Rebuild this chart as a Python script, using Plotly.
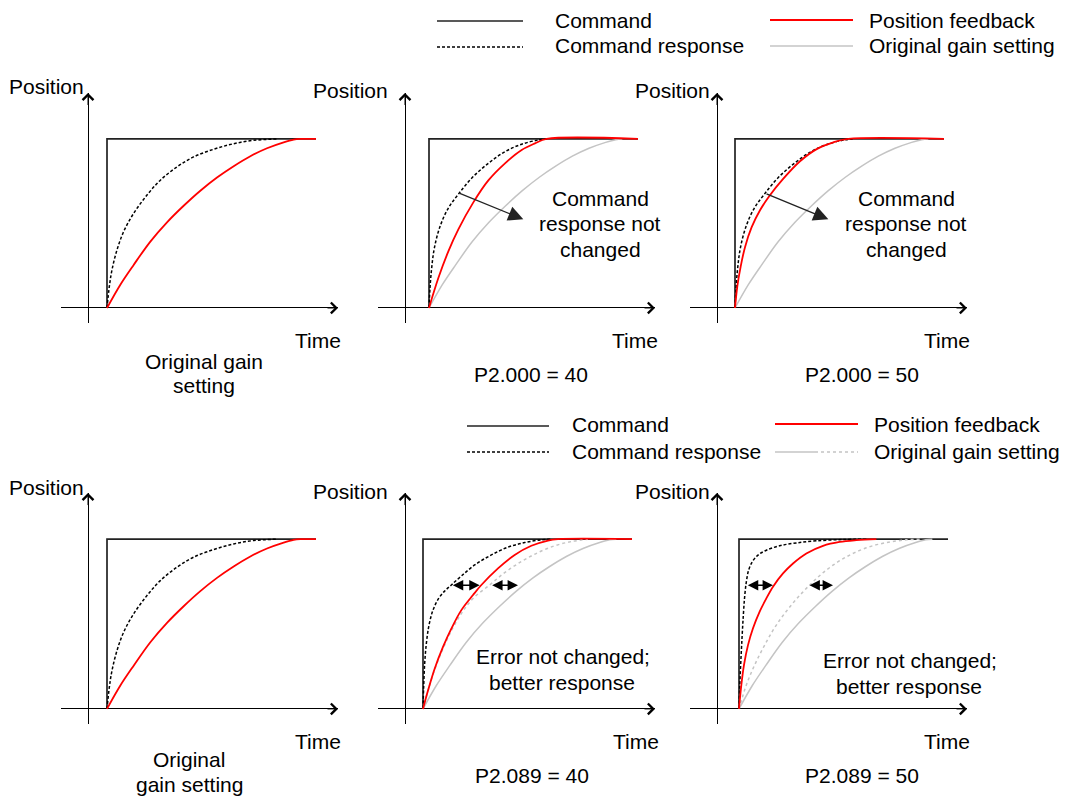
import plotly.graph_objects as go

# the page body adds an 8px margin, so the figure is drawn 8px smaller
OFF = 8
W, H = 1068 - OFF, 796 - OFF
FONT = "Liberation Sans, Arial, sans-serif"

# time counted from the command step (1 unit = one time division),
# position normalised so that the command level is 1
cmd_len = 10.45
step_t = [0.95, 1.2, 0.9, 0.95, 0.9, 1.1]   # command step time in each panel

# original gain setting: command response (dotted) and position feedback
orig_resp_t = [0, 0.117, 0.25, 0.5, 0.833, 1.333, 2.0, 2.667, 3.5, 4.333, 5.333, 6.333, 7.333, 8.5]
orig_resp_p = [0, 0.128, 0.226, 0.344, 0.452, 0.56, 0.668, 0.756, 0.835, 0.894, 0.939, 0.972, 0.992, 1.0]
orig_fb_t = [0, 0.667, 1.333, 2.167, 3.0, 3.833, 4.667, 5.5, 6.333, 7.167, 8.0, 8.833, 9.333, 9.667]
orig_fb_p = [0, 0.138, 0.255, 0.393, 0.507, 0.605, 0.694, 0.772, 0.839, 0.898, 0.945, 0.98, 0.996, 1.0]

# P2.000 = 40 / 50 : command response not changed
p2000_resp_t = [0, 0.05, 0.133, 0.267, 0.55, 0.967, 1.467, 2.133, 2.967, 3.8, 4.633, 5.467, 5.883]
p2000_resp_p = [0, 0.118, 0.236, 0.354, 0.482, 0.591, 0.673, 0.768, 0.856, 0.925, 0.969, 0.994, 1.0]
p2000_40_fb_t = [0, 0.467, 0.967, 1.467, 2.217, 2.967, 3.8, 4.633, 5.3, 5.883]
p2000_40_fb_p = [0, 0.177, 0.335, 0.465, 0.625, 0.755, 0.856, 0.935, 0.974, 1.0]
p2000_50_fb_t = [0, 0.117, 0.283, 0.5, 0.833, 1.25, 1.7, 2.417, 3.25, 4.083, 4.917, 5.667]
p2000_50_fb_p = [0, 0.13, 0.245, 0.36, 0.478, 0.578, 0.66, 0.765, 0.868, 0.94, 0.98, 1.0]

# P2.089 = 40
p2089_40_resp_t = [0, 0.033, 0.083, 0.167, 0.3, 0.5, 0.783, 1.083, 1.417, 1.917, 2.583, 3.417, 4.25, 5.083, 5.917, 6.417]
p2089_40_resp_p = [0, 0.128, 0.266, 0.385, 0.493, 0.582, 0.651, 0.694, 0.73, 0.783, 0.848, 0.907, 0.953, 0.98, 0.996, 1.0]
p2089_40_fb_t = [0, 0.25, 0.583, 1.0, 1.417, 1.917, 2.5, 2.917, 3.75, 4.583, 5.417, 6.25, 6.75]
p2089_40_fb_p = [0, 0.108, 0.237, 0.365, 0.473, 0.582, 0.671, 0.73, 0.828, 0.907, 0.961, 0.992, 1.0]
p2089_40_ref_t = [0, 0.25, 0.583, 1.0, 1.417, 1.917, 2.5, 3.333, 4.083, 4.917, 5.75, 6.583, 7.417, 8.25]
p2089_40_ref_p = [0, 0.108, 0.231, 0.355, 0.46, 0.562, 0.651, 0.73, 0.803, 0.868, 0.921, 0.961, 0.986, 1.0]

# P2.089 = 50
p2089_50_resp_t = [0, 0.033, 0.083, 0.15, 0.217, 0.283, 0.367, 0.483, 0.667, 0.95, 1.367, 2.033, 2.867, 3.867, 5.2, 6.367]
p2089_50_resp_p = [0, 0.122, 0.259, 0.416, 0.553, 0.661, 0.749, 0.818, 0.867, 0.906, 0.935, 0.961, 0.978, 0.99, 0.998, 1.0]
p2089_50_fb_t = [0, 0.117, 0.25, 0.45, 0.7, 1.033, 1.367, 1.7, 2.2, 2.7, 3.367, 4.2, 5.033, 5.867, 6.867]
p2089_50_fb_p = [0, 0.141, 0.259, 0.376, 0.475, 0.573, 0.651, 0.72, 0.798, 0.857, 0.916, 0.961, 0.984, 0.994, 1.0]
p2089_50_ref_t = [0, 0.367, 0.783, 1.283, 1.867, 2.617, 3.45, 4.367, 5.367, 6.367, 7.367, 8.367, 9.033]
p2089_50_ref_p = [0, 0.141, 0.259, 0.376, 0.494, 0.612, 0.72, 0.818, 0.896, 0.949, 0.98, 0.996, 1.0]

# "command response not changed" arrows (panel 2, 3): tail, head
note_arrow_tail = [(2.665, 0.682), (2.4, 0.679)]
note_arrow_head = [(5.915, 0.525), (5.567, 0.525)]
# error arrows (panel 5, 6): (x0, x1, y)
err_arrows = [[(2.317, 3.733, 0.729), (4.283, 5.65, 0.729)],
              [(1.467, 2.8, 0.729), (4.55, 5.8, 0.729)]]

CMD = dict(color="#222222", width=1.7)
RED = dict(color="#ff0000", width=1.8)
DOT = dict(color="#000000", width=1.5, dash="3px,2px")
GRAY = dict(color="#c4c4c4", width=1.5)
GRAY_DOT = dict(color="#c4c4c4", width=1.5, dash="3px,3px")

# (t, p, style, hold at command level until end)
panels = [
    [(orig_resp_t, orig_resp_p, DOT, False), (orig_fb_t, orig_fb_p, RED, True)],
    [(orig_fb_t, orig_fb_p, GRAY, False), (p2000_resp_t, p2000_resp_p, DOT, False),
     (p2000_40_fb_t, p2000_40_fb_p, RED, True)],
    [(orig_fb_t, orig_fb_p, GRAY, False), (p2000_resp_t, p2000_resp_p, DOT, False),
     (p2000_50_fb_t, p2000_50_fb_p, RED, True)],
    [(orig_resp_t, orig_resp_p, DOT, False), (orig_fb_t, orig_fb_p, RED, True)],
    [(orig_fb_t, orig_fb_p, GRAY, False), (p2089_40_ref_t, p2089_40_ref_p, GRAY_DOT, False),
     (p2089_40_resp_t, p2089_40_resp_p, DOT, False), (p2089_40_fb_t, p2089_40_fb_p, RED, True)],
    [(orig_fb_t, orig_fb_p, GRAY, False), (p2089_50_ref_t, p2089_50_ref_p, GRAY_DOT, False),
     (p2089_50_resp_t, p2089_50_resp_p, DOT, False), (p2089_50_fb_t, p2089_50_fb_p, RED, False)],
]

col_px = [88, 405, 717]              # y axis position of each column
row_px = [(93, 323), (493, 724)]     # top / bottom of y axis in each row
x_rng = [-1.35, 12.5]
y_rng = [-0.0888, 1.272]


def px(x):
    return (x - OFF) / W


def py(y):
    return 1 - (y - OFF) / H


fig = go.Figure()
layout = {}

for i, curves in enumerate(panels):
    n = "" if i == 0 else str(i + 1)
    xa, ya = "x" + n, "y" + n
    cx = col_px[i % 3]
    top, bot = row_px[i // 3]
    layout["xaxis" + n] = dict(
        domain=[px(cx - 27), px(cx + 250)], range=x_rng, anchor=ya,
        showgrid=False, showticklabels=False, ticks="", zeroline=True,
        zerolinecolor="black", zerolinewidth=1, fixedrange=True)
    layout["yaxis" + n] = dict(
        domain=[py(bot), py(top)], range=y_rng, anchor=xa,
        showgrid=False, showticklabels=False, ticks="", zeroline=True,
        zerolinecolor="black", zerolinewidth=1, fixedrange=True)

    s = step_t[i]
    fig.add_trace(go.Scatter(x=[s, s, s + cmd_len], y=[0, 1, 1], mode="lines",
                             line=CMD, xaxis=xa, yaxis=ya, hoverinfo="skip"))
    for t, p, style, hold in curves:
        xs = [s + v for v in t]
        ys = list(p)
        if hold:
            xs.append(s + cmd_len)
            ys.append(1.0)
        fig.add_trace(go.Scatter(x=xs, y=ys, mode="lines", line=dict(shape="spline", smoothing=1.0, **style),
                                 xaxis=xa, yaxis=ya, hoverinfo="skip"))

    # axis arrow heads
    fig.add_annotation(x=x_rng[1], y=0, ax=x_rng[1] - 0.6, ay=0, xref=xa, yref=ya, axref=xa, ayref=ya,
                       text="", showarrow=True, arrowhead=4, arrowsize=2.1, arrowwidth=1, arrowcolor="black")
    fig.add_annotation(x=0, y=y_rng[1], ax=0, ay=y_rng[1] - 0.08, xref=xa, yref=ya, axref=xa, ayref=ya,
                       text="", showarrow=True, arrowhead=4, arrowsize=2.1, arrowwidth=1, arrowcolor="black")

    if i in (1, 2):
        k = i - 1
        fig.add_annotation(x=note_arrow_head[k][0], y=note_arrow_head[k][1],
                           ax=note_arrow_tail[k][0], ay=note_arrow_tail[k][1],
                           xref=xa, yref=ya, axref=xa, ayref=ya, text="", showarrow=True,
                           arrowhead=2, arrowsize=2.3, arrowwidth=1.3, arrowcolor="#222222", standoff=0)
    if i in (4, 5):
        for x0, x1, yv in err_arrows[i - 4]:
            fig.add_annotation(x=x1, y=yv, ax=x0, ay=yv, xref=xa, yref=ya, axref=xa, ayref=ya,
                               text="", showarrow=True, arrowside="end+start",
                               arrowhead=2, startarrowhead=2, arrowsize=1.3, startarrowsize=1.3,
                               arrowwidth=1.6, arrowcolor="black", standoff=0, startstandoff=0)


def label(s, x, y, anchor="center"):
    fig.add_annotation(text=s, x=px(x), y=py(y), xref="paper", yref="paper", showarrow=False,
                       xanchor=anchor, yanchor="middle", font=dict(family=FONT, size=21, color="black"))


for x, y in [(46, 86), (350, 91), (672, 91), (46, 487), (350, 491), (672, 491)]:
    label("Position", x, y)
for x, y in [(318, 340), (635, 340), (947, 340), (318, 741), (636, 741), (947, 741)]:
    label("Time", x, y)

label("Original gain", 204, 361)
label("setting", 204, 386)
label("Original", 189, 759)
label("gain setting", 189, 784)
label("P2.000 = 40", 531, 374)
label("P2.000 = 50", 862, 374)
label("P2.089 = 40", 532, 775)
label("P2.089 = 50", 862, 775)
for cx in (600, 906):
    label("Command", cx, 198)
    label("response not", cx, 224)
    label("changed", cx, 250)
label("Error not changed;", 563, 656)
label("better response", 562, 682)
label("Error not changed;", 910, 660)
label("better response", 909, 686)

# legends
shapes = []


def sample(x0, x1, y, style):
    shapes.append(dict(type="line", xref="paper", yref="paper", x0=px(x0), x1=px(x1),
                       y0=py(y), y1=py(y),
                       line=dict(color=style["color"], width=style["width"], dash=style.get("dash", "solid"))))


sample(437, 523, 21, CMD)
sample(437, 523, 47, DOT)
sample(770, 853, 20, RED)
sample(770, 853, 46, GRAY)
label("Command", 553, 20, "left")
label("Command response", 553, 46, "left")
label("Position feedback", 867, 20, "left")
label("Original gain setting", 867, 46, "left")

sample(467, 549, 426, CMD)
sample(467, 549, 452, DOT)
sample(775, 858, 424, RED)
sample(775, 815, 452, GRAY)
sample(815, 858, 452, GRAY_DOT)
label("Command", 570, 425, "left")
label("Command response", 570, 451, "left")
label("Position feedback", 872, 425, "left")
label("Original gain setting", 872, 451, "left")

fig.update_layout(width=W, height=H, margin=dict(l=0, r=0, t=0, b=0),
                  paper_bgcolor="white", plot_bgcolor="white", showlegend=False,
                  hovermode=False, shapes=shapes, **layout)

fig.write_html("out.html", config={"displayModeBar": False})
